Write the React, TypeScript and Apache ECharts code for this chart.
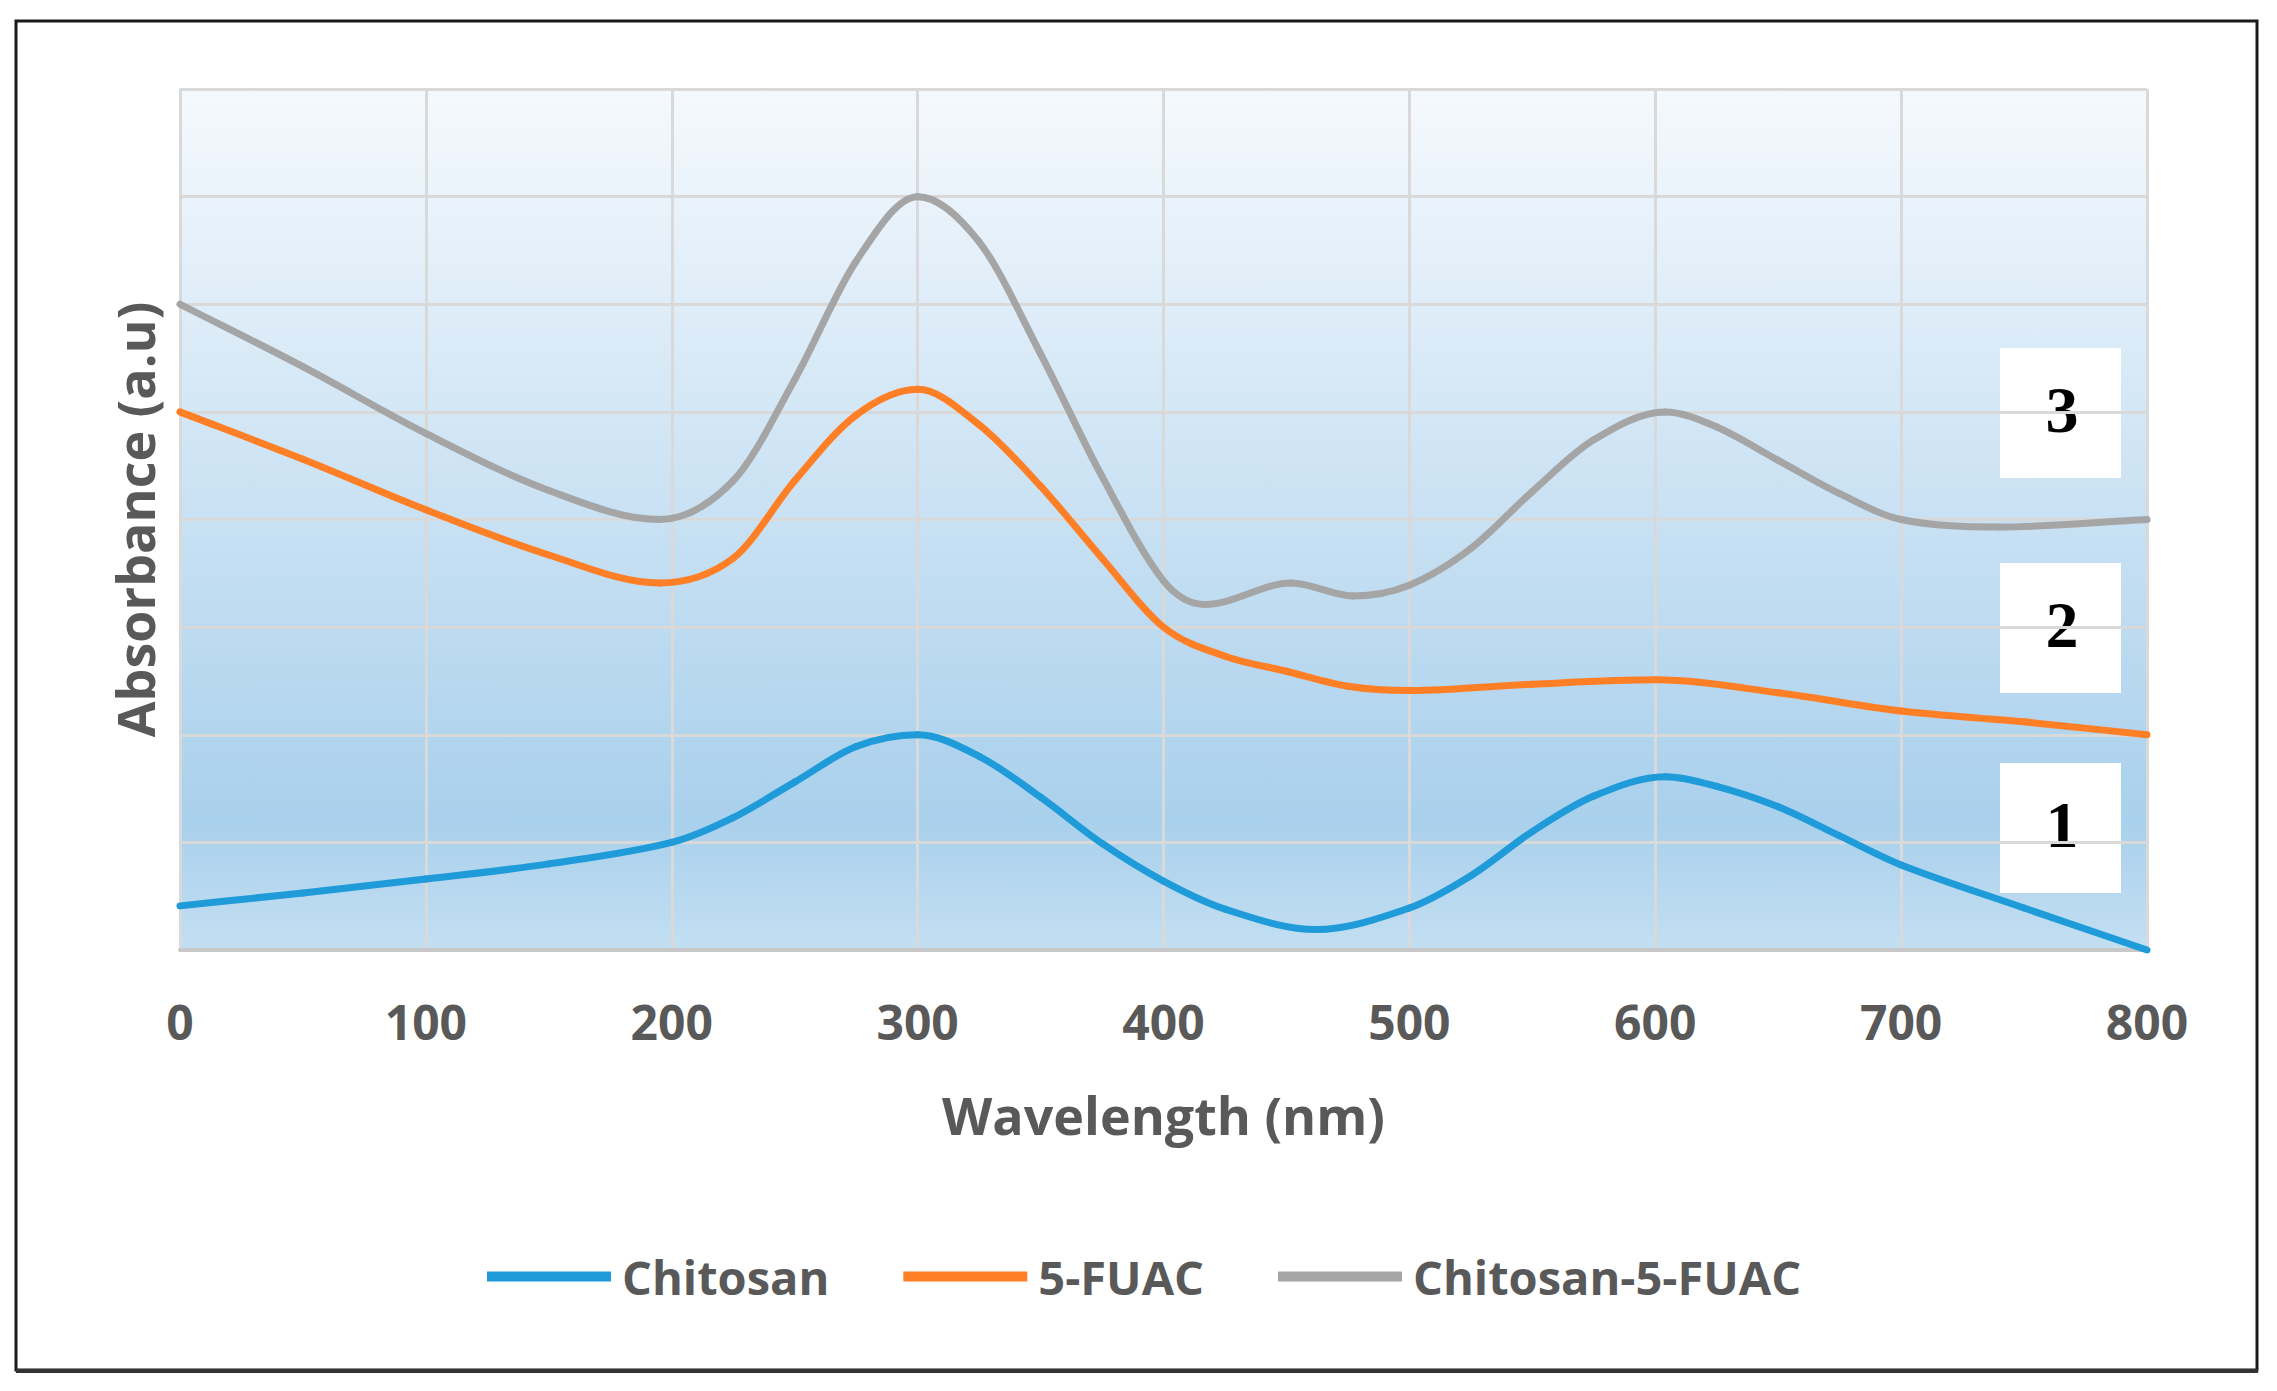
import React, { useEffect, useRef } from "react";
import * as echarts from "echarts";

// [wavelength (nm), absorbance (a.u.)]
const chitosan: [number, number][] = [
  [0, 0.41], [50, 0.53], [100, 0.66], [150, 0.8], [200, 1.0], [225, 1.23], [250, 1.56], [275, 1.89],
  [300, 2.0], [325, 1.8], [350, 1.42], [375, 0.99], [400, 0.64], [425, 0.38], [462, 0.19], [500, 0.39],
  [525, 0.69], [550, 1.1], [575, 1.43], [604, 1.61], [625, 1.52], [650, 1.33], [675, 1.06], [700, 0.79],
  [750, 0.39], [800, 0.0],
];

const fuac: [number, number][] = [
  [0, 5.0], [50, 4.56], [100, 4.09], [150, 3.67], [195, 3.41], [225, 3.64], [250, 4.36], [275, 4.97],
  [300, 5.21], [325, 4.88], [350, 4.31], [375, 3.64], [400, 3.0], [425, 2.73], [450, 2.59], [475, 2.45],
  [500, 2.41], [550, 2.47], [600, 2.51], [650, 2.39], [700, 2.22], [750, 2.12], [800, 2.0],
];

const chitosanFuac: [number, number][] = [
  [0, 6.0], [50, 5.42], [100, 4.8], [150, 4.27], [195, 4.0], [225, 4.36], [250, 5.3], [275, 6.4],
  [300, 7.0], [325, 6.58], [350, 5.54], [375, 4.4], [400, 3.43], [417, 3.21], [452, 3.41], [477, 3.29],
  [500, 3.39], [525, 3.73], [550, 4.26], [575, 4.74], [604, 5.0], [625, 4.86], [650, 4.55], [675, 4.24],
  [700, 4.0], [740, 3.93], [800, 4.0],
];

const seriesNames = ["Chitosan", "5-FUAC", "Chitosan-5-FUAC"];
const seriesColors = ["#1f9bd9", "#ff7f27", "#a5a5a5"];
const boxLabels = ["3", "2", "1"];

const xTicks = { min: 0, max: 800, interval: 100 };
const yTicks = { min: 0, max: 8, interval: 1 };

function tangents(P: number[][]): number[] {
  const n = P.length;
  const m: number[] = [];
  for (let i = 0; i < n; i++) {
    if (i === 0) {
      m.push((P[1][1] - P[0][1]) / (P[1][0] - P[0][0]));
    } else if (i === n - 1) {
      m.push((P[n - 1][1] - P[n - 2][1]) / (P[n - 1][0] - P[n - 2][0]));
    } else {
      const d0 = (P[i][1] - P[i - 1][1]) / (P[i][0] - P[i - 1][0]);
      const d1 = (P[i + 1][1] - P[i][1]) / (P[i + 1][0] - P[i][0]);
      if (d0 * d1 <= 0) m.push(0);
      else m.push((P[i + 1][1] - P[i - 1][1]) / (P[i + 1][0] - P[i - 1][0]));
    }
  }
  return m;
}

export default function App() {
  const ref = useRef<HTMLDivElement>(null);

  useEffect(() => {
    if (!ref.current) return;
    const chart = echarts.init(ref.current, null, { renderer: "svg" });
    const font = "'Open Sans', sans-serif";
    const allData = [chitosan, fuac, chitosanFuac];
    const boxTops = [348, 563, 763];

    const makeRender = (s: number) => (params: any, api: any) => {
      const data = allData[s];
      const i = params.dataIndex;
      if (i >= data.length - 1) return { type: "group", children: [] };
      const P = data.map((d) => api.coord(d));
      const m = tangents(P);
      const dx = P[i + 1][0] - P[i][0];
      return {
        type: "bezierCurve",
        shape: {
          x1: P[i][0],
          y1: P[i][1],
          cpx1: P[i][0] + dx / 3,
          cpy1: P[i][1] + (m[i] * dx) / 3,
          cpx2: P[i + 1][0] - dx / 3,
          cpy2: P[i + 1][1] - (m[i + 1] * dx) / 3,
          x2: P[i + 1][0],
          y2: P[i + 1][1],
        },
        style: { stroke: seriesColors[s], lineWidth: 7, fill: null, lineCap: "round", lineJoin: "round" },
      };
    };

    chart.setOption({
      animation: false,
      backgroundColor: "#ffffff",
      grid: { left: 180, right: 130, top: 89, bottom: 441, containLabel: false },
      xAxis: {
        type: "value",
        min: xTicks.min,
        max: xTicks.max,
        interval: xTicks.interval,
        name: "Wavelength (nm)",
        nameLocation: "middle",
        nameGap: 138,
        nameTextStyle: { fontFamily: font, fontWeight: "bold", fontSize: 52, color: "#595959" },
        axisLine: { show: true, lineStyle: { color: "#c8c8c8", width: 4 } },
        axisTick: { show: false },
        axisLabel: { fontFamily: font, fontWeight: "bold", fontSize: 48, color: "#595959", margin: 47 },
        splitLine: { show: true, lineStyle: { color: "#d9d9d9", width: 3 } },
      },
      yAxis: {
        type: "value",
        min: yTicks.min,
        max: yTicks.max,
        interval: yTicks.interval,
        name: "Absorbance (a.u)",
        nameLocation: "middle",
        nameGap: 20,
        nameTextStyle: { fontFamily: font, fontWeight: "bold", fontSize: 52, color: "#595959" },
        axisLine: { show: false },
        axisTick: { show: false },
        axisLabel: { show: false },
        splitLine: { show: true, lineStyle: { color: "#d9d9d9", width: 3 } },
      },
      legend: {
        left: 482,
        top: 1248,
        itemWidth: 124,
        itemHeight: 10,
        itemGap: 74,
        icon: "rect",
        textStyle: { fontFamily: font, fontWeight: "bold", fontSize: 47, color: "#595959", padding: [0, 0, 0, 6] },
        data: seriesNames.map((n, i) => ({ name: n, itemStyle: { color: seriesColors[i] } })),
      },
      series: seriesNames.map((name, i) => ({
        name,
        type: "custom",
        coordinateSystem: "cartesian2d",
        renderItem: makeRender(i),
        encode: { x: 0, y: 1 },
        data: allData[i],
        clip: false,
        itemStyle: { color: seriesColors[i] },
        z: 3 + i,
      })),
      graphic: [
        {
          type: "rect",
          z: -10,
          silent: true,
          shape: { x: 180, y: 89, width: 1967, height: 861 },
          style: {
            fill: new echarts.graphic.LinearGradient(0, 0, 0, 1, [
              { offset: 0, color: "#f5f9fd" },
              { offset: 0.85, color: "#a9d0ec" },
              { offset: 1, color: "#c3dff2" },
            ]),
          },
        },
        {
          type: "rect",
          silent: true,
          z: 100,
          shape: { x: 16, y: 21, width: 2241, height: 1349 },
          style: { fill: "none", stroke: "#1a1a1a", lineWidth: 3 },
        },
        {
          type: "line",
          silent: true,
          z: 100,
          shape: { x1: 16, y1: 1371, x2: 2258, y2: 1371 },
          style: { stroke: "#333333", lineWidth: 4 },
        },
        ...boxLabels.map((t, i) => ({
          type: "group",
          z: 50,
          children: [
            {
              type: "rect",
              shape: { x: 2000, y: boxTops[i], width: 121, height: 130 },
              style: { fill: "#ffffff" },
            },
            {
              type: "text",
              x: 2062,
              y: boxTops[i] + 61,
              style: {
                text: t,
                fontFamily: "'Liberation Serif', 'DejaVu Serif', serif",
                fontWeight: "bold",
                fontSize: 66,
                fill: "#000000",
                textAlign: "center",
                textVerticalAlign: "middle",
              },
            },
          ],
        })),
      ],
    });

    return () => chart.dispose();
  }, []);

  return (
    <div
      ref={ref}
      style={{ position: "fixed", left: 0, top: 0, width: 2277, height: 1391, background: "#ffffff" }}
    />
  );
}
